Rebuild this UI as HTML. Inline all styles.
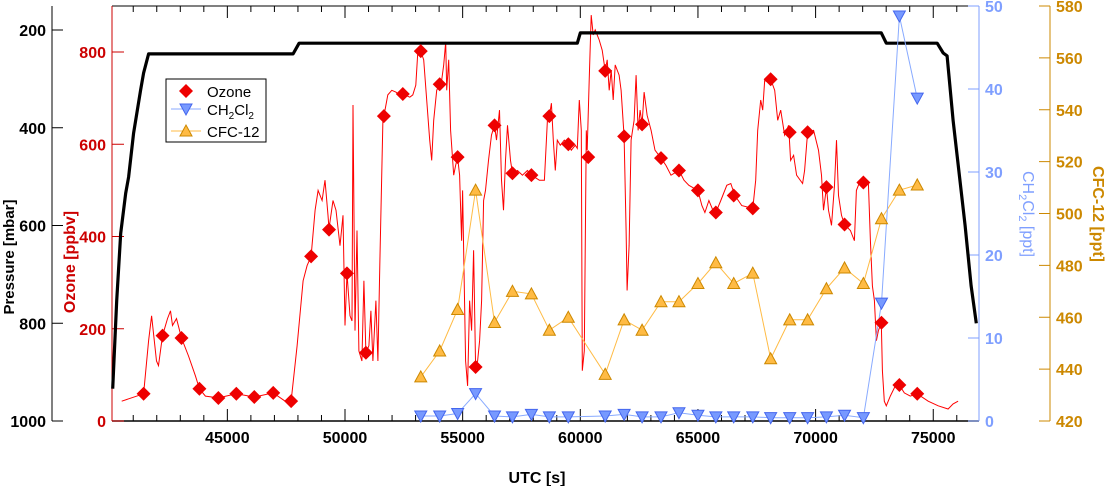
<!DOCTYPE html>
<html><head><meta charset="utf-8"><style>
html,body{margin:0;padding:0;background:#fff;}
svg{display:block;font-family:"Liberation Sans",Arial,sans-serif;font-weight:bold;}
</style></head><body>
<svg id="chart" width="1106" height="486" viewBox="0 0 1106 486" xmlns="http://www.w3.org/2000/svg">
<g id="axes"></g>
<g id="series"></g>
<g id="legend">
  <rect x="166" y="79" width="100" height="63" fill="#fff" stroke="#000" stroke-width="1"/>
  <g>
    <path d="M186,84 L193,91 L186,98 L179,91 Z" fill="#ee0000"/>
    <text x="207" y="97" font-size="15" font-weight="normal" fill="#000">Ozone</text>
  </g>
  <g>
    <line x1="171" y1="109" x2="201" y2="109" stroke="#88aaff" stroke-width="1"/>
    <path d="M180,104 L192,104 L186,115 Z" fill="#7799ff" stroke="#4466ee" stroke-width="1"/>
    <text x="207" y="115" font-size="15" font-weight="normal" fill="#000">CH<tspan font-size="10" dy="4">2</tspan><tspan dy="-4">Cl</tspan><tspan font-size="10" dy="4">2</tspan></text>
  </g>
  <g>
    <line x1="171" y1="131" x2="201" y2="131" stroke="#ffbb44" stroke-width="1"/>
    <path d="M180,136 L192,136 L186,125 Z" fill="#ffbb44" stroke="#cc8800" stroke-width="1"/>
    <text x="207" y="137" font-size="15" font-weight="normal" fill="#000">CFC-12</text>
  </g>
</g>
</svg>
<script>
// ---- data ----
const ozoneTraceT = [40508,41440,41652,41779,41991,42076,42246,42457,42584,42669,42839,43051,43347,43644,43813,44067,44618,45381,46144,46949,47457,47711,47965,48220,48389,48559,48728,48855,49025,49152,49279,49321,49491,49618,49787,49914,49999,50084,50211,50296,50338,50423,50508,50592,50720,50804,50889,51016,51101,51186,51313,51397,51482,51609,51652,51821,51991,52160,52330,52457,52753,52880,53007,53092,53219,53346,53474,53601,53685,53770,53897,54024,54109,54194,54279,54321,54406,54490,54618,54702,54787,54872,54957,54999,55126,55211,55295,55380,55465,55550,55634,55719,55804,55889,55973,56100,56228,56355,56439,56567,56651,56736,56821,56906,57033,57117,57329,57541,57753,57922,58261,58473,58600,58685,58770,58854,58939,59024,59152,59321,59490,59617,59787,59871,59956,60041,60083,60168,60253,60295,60380,60465,60549,60634,60804,60931,61058,61143,61227,61312,61397,61482,61651,61736,61863,61948,61990,62075,62159,62287,62371,62456,62541,62625,62710,62837,63007,63176,63431,63643,63854,64193,64406,64617,64998,65168,65295,65465,65634,65761,65973,66227,66396,66566,66863,67329,67456,67540,67668,67752,67837,68006,68091,68261,68388,68515,68684,68854,68939,69066,69193,69447,69532,69659,69913,70125,70252,70337,70464,70549,70676,70803,70888,70973,71100,71227,71481,71650,71735,71905,72032,72243,72328,72413,72498,72582,72667,72794,72837,72921,73006,73176,73386,73557,73769,74023,74320,74786,75209,75633,75845,76057];
const ozoneTraceV = [43,59,174,228,130,120,185,222,239,207,222,180,141,98,70,54,50,59,52,61,43,43,163,304,337,357,457,500,478,522,446,417,478,457,380,446,207,320,228,217,685,196,413,152,130,304,148,163,239,130,261,130,348,652,661,707,717,713,707,709,702,707,728,800,802,783,696,609,565,652,717,730,739,772,822,717,783,630,533,554,572,533,391,500,130,76,261,196,370,117,130,174,261,478,500,565,620,641,609,674,522,457,565,641,565,537,543,533,543,533,522,522,652,661,689,609,543,609,598,609,600,587,598,591,696,630,109,152,630,587,739,880,837,848,826,804,759,783,717,761,696,772,750,717,617,413,283,380,609,652,750,630,674,643,713,663,630,587,570,554,533,543,522,511,500,467,452,478,457,452,478,511,515,489,467,461,522,630,696,674,739,733,741,717,652,674,620,641,565,576,533,515,543,626,630,587,533,457,507,457,424,511,609,489,446,426,413,391,500,522,517,515,391,293,261,174,196,213,109,43,33,54,76,78,61,54,59,43,33,26,37,43];
const ozoneMarkT = [41440,42246,43051,43813,44618,45381,46144,46949,47711,48559,49321,50084,50889,51652,52457,53220,54024,54787,55550,56355,57117,57922,58685,59490,60337,61058,61863,62626,63430,64193,65000,65760,66520,67330,68090,68900,69660,70460,71230,72030,72800,73560,74320];
const ozoneMarkV = [59,185,180,70,50,59,52,61,43,357,415,320,148,661,709,802,730,572,117,641,537,533,661,600,572,759,617,643,570,543,500,452,489,461,741,626,626,507,426,517,213,78,59];
const sampleT = [53220,54024,54787,55550,56355,57117,57922,58685,59490,61058,61863,62626,63430,64193,65000,65760,66520,67330,68090,68900,69660,70460,71230,72030,72800,73560,74320];
const ch2cl2V = [0.6,0.6,0.9,3.3,0.6,0.5,0.8,0.5,0.5,0.6,0.8,0.5,0.5,1.0,0.7,0.5,0.5,0.5,0.4,0.4,0.4,0.5,0.7,0.4,14.2,48.8,38.9];
const cfc12V = [437,447,463,509,458,470,469,455,460,438,459,455,466,466,473,481,473,477,444,459,459,471,479,473,498,509,511];
const pressT = [40127,40296,40466,40678,40805,41017,41313,41440,41652,47796,48050,59871,59998,72794,73006,75167,75421,75590,75845,76353,76607,76830];
const pressV = [934,754,616,534,501,411,323,288,249,249,227,227,206,206,227,227,247,253,385,600,723,800];
const xTicks = [45000,50000,55000,60000,65000,70000,75000];
const pressTicks = [200,400,600,800,1000];
const ozoneTicks = [0,200,400,600,800];
const ch2Ticks = [0,10,20,30,40,50];
const cfcTicks = [420,440,460,480,500,520,540,560,580];

// ---- scales ----
const L=112,R=979,T=6,B=421;
const xS = t => 345 + (t-50000)*0.02353;
const yOz = v => 421 - v*0.46125;
const yP = p => 30 + (p-200)*(391/800);
const yCh = v => 421 - v*(415/50);
const yCfc = v => 421 - (v-420)*(415/160);
const NS='http://www.w3.org/2000/svg';
function mk(tag, attrs, parent){const e=document.createElementNS(NS,tag);for(const k in attrs)e.setAttribute(k,attrs[k]);parent.appendChild(e);return e;}
const ax=document.getElementById('axes'), se=document.getElementById('series');

let fr=mk('rect',{x:L,y:T,width:R-L,height:B-T,fill:'none',stroke:'none'},ax);


let bl=mk('line',{x1:L,y1:B,x2:R,y2:B,stroke:'#000','stroke-width':1.5},ax);


let tl=mk('line',{x1:L,y1:T,x2:R,y2:T,stroke:'#000','stroke-width':1},ax);


for(let t=41000;t<=76000;t+=1000){
  const x=xS(t), major=(t%5000===0), len=major?12:6;
  mk('line',{x1:x,y1:B,x2:x,y2:B-len,stroke:'#000','stroke-width':1},ax);
  mk('line',{x1:x,y1:T,x2:x,y2:T+len,stroke:'#000','stroke-width':1},ax);
}
xTicks.forEach(t=>{
  const tx=mk('text',{x:xS(t),y:443,'text-anchor':'middle','font-size':16,fill:'#000'},ax);
  tx.textContent=t;
  
  
});
let xt=mk('text',{x:537,y:483,'text-anchor':'middle','font-size':16,fill:'#000'},ax);
xt.textContent='UTC [s]';



let pa=mk('line',{x1:52,y1:T,x2:52,y2:B,stroke:'#000','stroke-width':1},ax);


pressTicks.forEach(p=>{
  mk('line',{x1:52,y1:yP(p),x2:63,y2:yP(p),stroke:'#000','stroke-width':1},ax);
  const tx=mk('text',{x:46,y:yP(p)+6,'text-anchor':'end','font-size':16,fill:'#000'},ax);
  tx.textContent=p;
  
  
});
let pt=mk('text',{x:0,y:0,'text-anchor':'middle','font-size':15,fill:'#000',transform:'translate(14,257) rotate(-90)'},ax);
pt.textContent='Pressure [mbar]';



let oa=mk('line',{x1:L,y1:T,x2:L,y2:B,stroke:'#cc0000','stroke-width':1},ax);


ozoneTicks.forEach(v=>{
  mk('line',{x1:L,y1:yOz(v),x2:L+12,y2:yOz(v),stroke:'#cc0000','stroke-width':1},ax);
  const tx=mk('text',{x:106,y:yOz(v)+6,'text-anchor':'end','font-size':16,fill:'#cc0000'},ax);
  tx.textContent=v;
  
  
});
let ot=mk('text',{x:0,y:0,'text-anchor':'middle','font-size':16,fill:'#cc0000',transform:'translate(75,262) rotate(-90)'},ax);
ot.textContent='Ozone [ppbv]';



let ca=mk('line',{x1:R,y1:T,x2:R,y2:B,stroke:'#7f9fff','stroke-width':1},ax);


ch2Ticks.forEach(v=>{
  mk('line',{x1:R-11,y1:yCh(v),x2:R,y2:yCh(v),stroke:'#7f9fff','stroke-width':1},ax);
  const tx=mk('text',{x:985,y:yCh(v)+6,'text-anchor':'start','font-size':16,fill:'#7f9fff'},ax);
  tx.textContent=v;
  
  
});
let ct=mk('text',{x:0,y:0,'text-anchor':'middle','font-size':16,'font-weight':'normal',fill:'#7f9fff',transform:'translate(1023,214) rotate(90)'},ax);
ct.innerHTML='CH<tspan font-size="11" dy="4">2</tspan><tspan dy="-4">Cl</tspan><tspan font-size="11" dy="4">2</tspan><tspan dy="-4"> [ppt]</tspan>';



let fa=mk('line',{x1:1050,y1:T,x2:1050,y2:B,stroke:'#cc8800','stroke-width':1},ax);


cfcTicks.forEach(v=>{
  mk('line',{x1:1039,y1:yCfc(v),x2:1050,y2:yCfc(v),stroke:'#cc8800','stroke-width':1},ax);
  const tx=mk('text',{x:1056,y:yCfc(v)+6,'text-anchor':'start','font-size':16,fill:'#cc8800'},ax);
  tx.textContent=v;
  
  
});
let ft=mk('text',{x:0,y:0,'text-anchor':'middle','font-size':16,fill:'#cc8800',transform:'translate(1093,214) rotate(90)'},ax);
ft.textContent='CFC-12 [ppt]';



const pts=(ts,vs,ys)=>ts.map((t,i)=>xS(t).toFixed(1)+','+ys(vs[i]).toFixed(1)).join(' ');
let ol=mk('polyline',{points:pts(ozoneTraceT,ozoneTraceV,yOz),fill:'none',stroke:'#ff0000','stroke-width':1},se);


let pl=mk('polyline',{points:pts(pressT,pressV,yP),fill:'none',stroke:'#000','stroke-width':3.2,'stroke-linejoin':'round'},se);


let cl=mk('polyline',{points:pts(sampleT,cfc12V,yCfc),fill:'none',stroke:'#ffbb44','stroke-width':1},se);


let hl=mk('polyline',{points:pts(sampleT,ch2cl2V,yCh),fill:'none',stroke:'#88aaff','stroke-width':1},se);


sampleT.forEach((t,i)=>{
  const x=xS(t), y=yCfc(cfc12V[i]);
  const m=mk('path',{d:`M${x-6},${y+5} L${x+6},${y+5} L${x},${y-6} Z`,fill:'#ffbb44',stroke:'#cc8800','stroke-width':1},se);
  
  
});
sampleT.forEach((t,i)=>{
  const x=xS(t), y=yCh(ch2cl2V[i]);
  const m=mk('path',{d:`M${x-6},${y-5} L${x+6},${y-5} L${x},${y+6} Z`,fill:'#7799ff',stroke:'#4466ee','stroke-width':1},se);
  
  
});
ozoneMarkT.forEach((t,i)=>{
  const x=xS(t), y=yOz(ozoneMarkV[i]);
  const m=mk('path',{d:`M${x},${y-7} L${x+7},${y} L${x},${y+7} L${x-7},${y} Z`,fill:'#ee0000'},se);
  
  
});
</script>
</body></html>
